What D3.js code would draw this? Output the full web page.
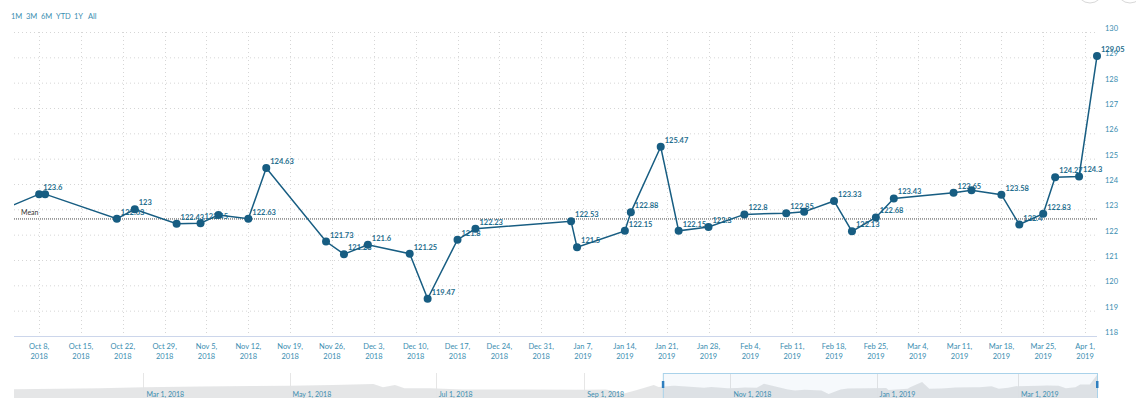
<!DOCTYPE html>
<html><head><meta charset="utf-8">
<script src="https://cdn.jsdelivr.net/npm/d3@7"></script>
<style>
html,body{margin:0;padding:0;background:#fff;}
svg{display:block;font-family:Lato,"Open Sans",sans-serif;}
</style>
</head><body>
<svg id="chart" width="1136" height="398"></svg>
<script>
// ---------- DATA ----------
const historyDates = ["2018-01-06","2018-01-25","2018-02-11","2018-03-01","2018-03-25","2018-04-15","2018-05-01","2018-05-19","2018-06-05","2018-06-09","2018-06-14","2018-06-18","2018-06-29","2018-07-12","2018-08-06","2018-09-01","2018-09-10","2018-09-18","2018-09-23","2018-09-30","2018-10-02"];
const historyValues = [121.85,122.1,122.4,122.85,123.2,123.5,123.65,124.0,124.5,122.85,124.0,122.35,122.4,121.8,121.7,121.6,121.7,119.85,121.5,124.0,123.0];

const dates = ["2018-10-08","2018-10-09","2018-10-21","2018-10-24","2018-10-31","2018-11-04","2018-11-07","2018-11-12","2018-11-15","2018-11-25","2018-11-28","2018-12-02","2018-12-09","2018-12-12","2018-12-17","2018-12-20","2019-01-05","2019-01-06","2019-01-14","2019-01-15","2019-01-20","2019-01-23","2019-01-28","2019-02-03","2019-02-10","2019-02-13","2019-02-18","2019-02-21","2019-02-25","2019-02-28","2019-03-10","2019-03-13","2019-03-18","2019-03-21","2019-03-25","2019-03-27","2019-03-31","2019-04-03"];
const values = [123.6,123.6,122.63,123,122.43,122.45,122.78,122.63,124.63,121.73,121.23,121.6,121.25,119.47,121.8,122.23,122.53,121.5,122.15,122.88,125.47,122.15,122.3,122.8,122.85,122.9,123.33,122.13,122.68,123.43,123.65,123.75,123.58,122.4,122.83,124.27,124.3,129.05];
const hiddenLabelDates = ["2018-10-09","2018-11-07","2019-02-13","2019-03-13"];

const meanValue = 122.62;
const meanLabel = "Mean";
const yTicks = [118,119,120,121,122,123,124,125,126,127,128,129,130];
const rangeButtons = ["1M","3M","6M","YTD","1Y","All"];
const viewStart = "2018-10-03T19:00";
const viewEnd = "2019-04-03T00:00";

// ---------- SETUP ----------
const parseDay = d3.utcParse("%Y-%m-%d");
const parseTime = d3.utcParse("%Y-%m-%dT%H:%M");
const allPoints = historyDates.map((d,i)=>({date:parseDay(d), value:historyValues[i], main:false}))
  .concat(dates.map((d,i)=>({date:parseDay(d), value:values[i], main:true, key:d})));
const mainPoints = allPoints.filter(p=>p.main);

const svg = d3.select("#chart");
const plot = {left:14, right:1097, top:32, bottom:336};
const teal = "#3a8db0", lineCol = "#175d82", labelCol = "#1f6e8e";

const x = d3.scaleUtc().domain([parseTime(viewStart), parseTime(viewEnd)]).range([plot.left, plot.right]);
const y = d3.scaleLinear().domain([yTicks[0], yTicks[yTicks.length-1]]).range([plot.bottom, plot.top]);

// top-right buttons (cut off)
svg.append("circle").attr("cx",1090).attr("cy",-10).attr("r",13).attr("fill","#fff").attr("stroke","#d8d8d8");
svg.append("circle").attr("cx",1130).attr("cy",-10).attr("r",13).attr("fill","#fff").attr("stroke","#d8d8d8");

// range selector
const btnX = [11,26,41,56,74,88];
svg.append("g").selectAll("text").data(rangeButtons).join("text")
  .attr("x",(d,i)=>btnX[i]).attr("y",19)
  .attr("font-size",7.5).attr("fill",teal).text(d=>d);

// gridlines
const xTicks = x.ticks(d3.utcMonday.every(1));
svg.append("g").selectAll("line").data(yTicks).join("line")
  .attr("x1",plot.left).attr("x2",plot.right)
  .attr("y1",d=>y(d)+0.5).attr("y2",d=>y(d)+0.5)
  .attr("stroke","#d6d6d6").attr("stroke-dasharray","1,3");
svg.append("g").selectAll("line").data(xTicks).join("line")
  .attr("x1",d=>Math.round(x(d))+0.5).attr("x2",d=>Math.round(x(d))+0.5)
  .attr("y1",plot.top).attr("y2",plot.bottom)
  .attr("stroke","#d6d6d6").attr("stroke-dasharray","1,3");

// x axis line
svg.append("line").attr("x1",plot.left).attr("x2",plot.right)
  .attr("y1",plot.bottom+0.5).attr("y2",plot.bottom+0.5).attr("stroke","#ccd6eb");

// x tick labels
const fmtMD = d3.utcFormat("%b %-d,"), fmtY = d3.utcFormat("%Y");
const xl = svg.append("g").selectAll("text").data(xTicks).join("text")
  .attr("text-anchor","middle").attr("font-size",7.5).attr("fill",teal);
xl.append("tspan").attr("x",d=>x(d)).attr("y",349).text(d=>fmtMD(d));
xl.append("tspan").attr("x",d=>x(d)).attr("y",359).text(d=>fmtY(d));

// y tick labels (right)
svg.append("g").selectAll("text").data(yTicks).join("text")
  .attr("x",1105).attr("y",d=>y(d)-1)
  .attr("font-size",7.5).attr("fill",teal).text(d=>d);

// mean line
svg.append("line").attr("x1",plot.left).attr("x2",plot.right)
  .attr("y1",y(meanValue)).attr("y2",y(meanValue))
  .attr("stroke","#444").attr("stroke-width",1).attr("stroke-dasharray","1,1");
svg.append("text").attr("x",21).attr("y",y(meanValue)-3.5)
  .attr("font-size",7).attr("fill","#333").text(meanLabel);

// clip
svg.append("clipPath").attr("id","clipMain").append("rect")
  .attr("x",plot.left).attr("y",0).attr("width",plot.right-plot.left+6).attr("height",plot.bottom+2);

// data labels
const visible = mainPoints.filter(p=>p.date>=x.domain()[0] && p.date<=x.domain()[1]);
svg.append("g").selectAll("text").data(visible.filter(p=>!hiddenLabelDates.includes(p.key))).join("text")
  .attr("x",d=>x(d.date)+4).attr("y",d=>y(d.value)-4)
  .attr("font-size",7.5).attr("font-weight","bold").attr("fill",labelCol)
  .text(d=>String(d.value));

// series line
svg.append("path").datum(allPoints)
  .attr("clip-path","url(#clipMain)")
  .attr("d",d3.line().x(d=>x(d.date)).y(d=>y(d.value)))
  .attr("fill","none").attr("stroke",lineCol).attr("stroke-width",1.5);

// markers
svg.append("g").selectAll("circle").data(visible).join("circle")
  .attr("cx",d=>x(d.date)).attr("cy",d=>y(d.value)).attr("r",4)
  .attr("fill",lineCol);

// ---------- NAVIGATOR ----------
const nav = {top:373, bottom:413};
const nx = d3.scaleUtc().domain(d3.extent(allPoints,d=>d.date)).range([plot.left, plot.right]);
const ny = d3.scaleLinear().domain([110,130]).range([nav.bottom, nav.top]);
const navTicks = nx.ticks(d3.utcMonth.every(2));
svg.append("g").selectAll("line").data(navTicks).join("line")
  .attr("x1",d=>Math.round(nx(d))+0.5).attr("x2",d=>Math.round(nx(d))+0.5)
  .attr("y1",nav.top).attr("y2",398).attr("stroke","#e6e6e6");
svg.append("path").datum(allPoints)
  .attr("d",d3.area().x(d=>nx(d.date)).y0(nav.bottom).y1(d=>ny(d.value)))
  .attr("fill","#e4e5e6").attr("fill-opacity",0.95);
const fmtNav = d3.utcFormat("%b %-d, %Y");
svg.append("g").selectAll("text").data(navTicks).join("text")
  .attr("x",d=>nx(d)+3).attr("y",397)
  .attr("font-size",7).attr("fill",teal).text(d=>fmtNav(d));
// selection box
const s0 = nx(x.domain()[0]), s1 = nx(x.domain()[1]);
svg.append("rect").attr("x",s0+0.5).attr("y",nav.top+0.5).attr("width",s1-s0).attr("height",40)
  .attr("fill","rgba(102,160,210,0.06)").attr("stroke","#a9d2ea").attr("stroke-width",1);
[s0,s1].forEach(sx=>{
  svg.append("rect").attr("x",sx-1).attr("y",381).attr("width",2.5).attr("height",7).attr("fill","#2f7fbf");
});
</script>
</body></html>
